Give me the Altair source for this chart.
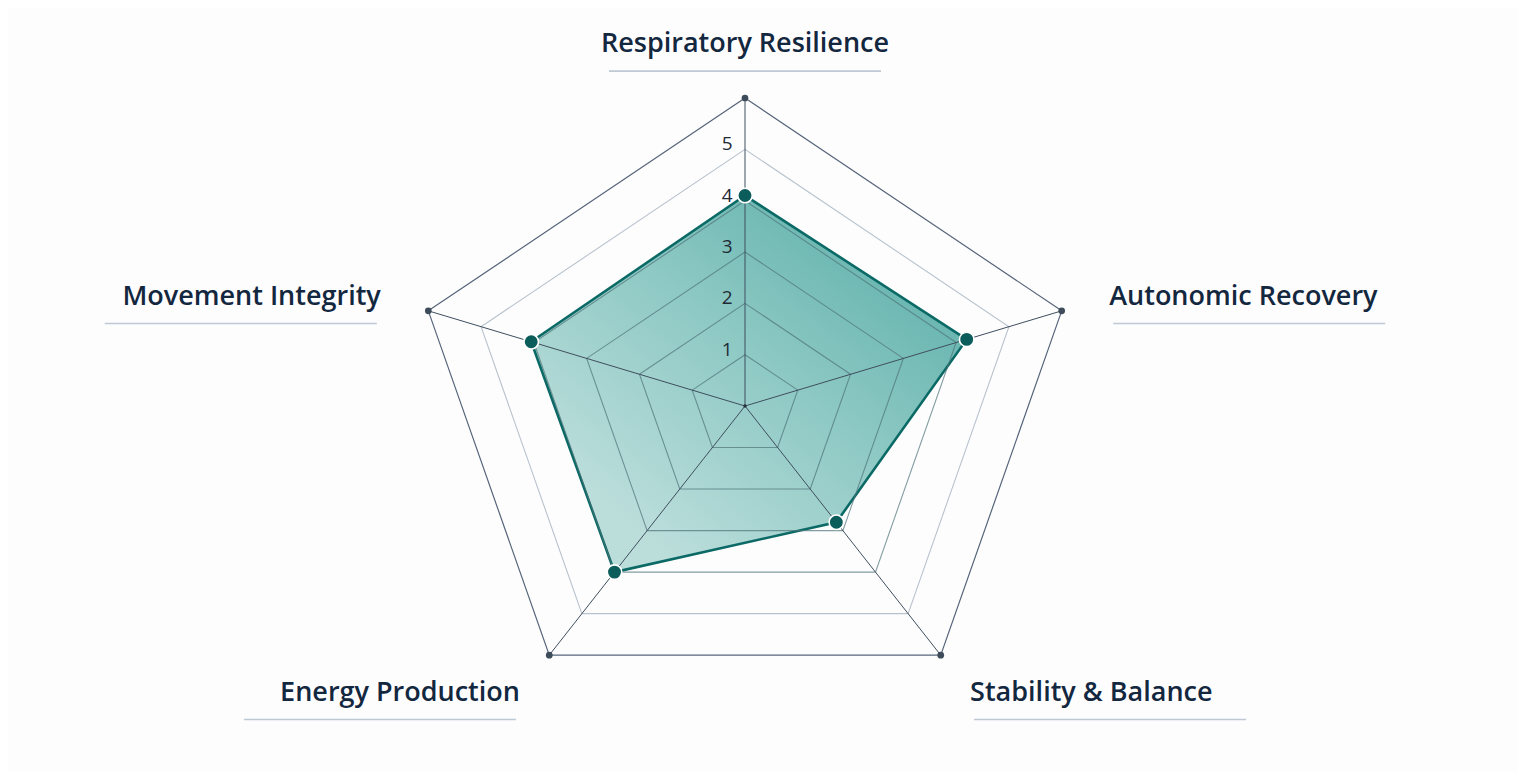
import math
import altair as alt
import pandas as pd

# ---- data ----
categories = ["Respiratory Resilience", "Autonomic Recovery", "Stability & Balance",
              "Energy Production", "Movement Integrity"]
scores = [4.1, 4.2, 2.8, 4.0, 4.05]
ring_levels = [1, 2, 3, 4, 5, 6]
tick_values = [1, 2, 3, 4, 5]
tick_labels = ["1", "2", "3", "4", "5"]
scale_max = 6

# ---- geometry of the view ----
W, H = 1510, 764
CX, CY = 737, 398          # centre of the radar inside the plot area (px)
PX_X, PX_Y = 55.5, 51.33   # pixels per score unit, horizontally / vertically
xdom = [-CX / PX_X, (W - CX) / PX_X]
ydom = [-(H - CY) / PX_Y, CY / PX_Y]

n = len(categories)
angles = [math.radians(90 - 360 / n * i) for i in range(n)]


def pos(r, a):
    return r * math.cos(a), r * math.sin(a)


poly = pd.DataFrame([
    {"category": c, "score": s, "idx": i,
     "x": pos(s, angles[i])[0], "y": pos(s, angles[i])[1]}
    for i, (c, s) in enumerate(zip(categories, scores))
])

rings = pd.DataFrame([
    {"level": lv, "idx": i, "x": pos(lv, angles[i])[0], "y": pos(lv, angles[i])[1]}
    for lv in ring_levels for i in range(n)
])

spokes = pd.DataFrame([
    {"idx": i, "x": 0.0, "y": 0.0,
     "x2": pos(scale_max, angles[i])[0], "y2": pos(scale_max, angles[i])[1]}
    for i in range(n)
])

outer = rings[rings["level"] == scale_max]

ticks = pd.DataFrame({"v": tick_values, "label": tick_labels})
ticks["x"] = -0.32
ticks["y"] = ticks["v"]

lab_rows = []
for i, c in enumerate(categories):
    a = angles[i]
    r = 7.05 if i == 0 else 6.9
    lx, ly = pos(r, a)
    ca = math.cos(a)
    anchor = "left" if ca > 0.1 else ("right" if ca < -0.1 else "center")
    lab_rows.append({"label": c, "x": lx, "y": ly, "anchor": anchor})
labels = pd.DataFrame(lab_rows)

UL = 272 / PX_X
ul_rows = []
for row in lab_rows:
    if row["anchor"] == "center":
        x1 = row["x"] - UL / 2
    elif row["anchor"] == "left":
        x1 = row["x"] + 4 / PX_X
    else:
        x1 = row["x"] - UL - 4 / PX_X
    ul_rows.append({"ux1": x1, "ux2": x1 + UL, "uy": row["y"] - 27 / PX_Y})
ul = pd.DataFrame(ul_rows)

xs = alt.Scale(domain=xdom, nice=False, zero=False)
ys = alt.Scale(domain=ydom, nice=False, zero=False)


def X(f="x"):
    return alt.X(f"{f}:Q", scale=xs, axis=None)


def Y(f="y"):
    return alt.Y(f"{f}:Q", scale=ys, axis=None)


outer_ring = alt.Chart(rings[rings["level"] == scale_max]).mark_line(
    interpolate="linear-closed", stroke="#56657a", strokeWidth=1.2
).encode(x=X(), y=Y(), order="idx:Q")

light_ring = alt.Chart(rings[rings["level"] == 5]).mark_line(
    interpolate="linear-closed", stroke="#b9c3cd", strokeWidth=1.1
).encode(x=X(), y=Y(), order="idx:Q")

grad = alt.Gradient(
    gradient="linear",
    stops=[alt.GradientStop(color="#4fa8a2", offset=0),
           alt.GradientStop(color="#86c5c0", offset=0.5),
           alt.GradientStop(color="#b8dcd9", offset=1)],
    x1=1, y1=0.1, x2=0.25, y2=0.9,
)

area = alt.Chart(poly).mark_line(
    interpolate="linear-closed", fill=grad, fillOpacity=0.95,
    stroke="#0c6a66", strokeWidth=2.6
).encode(x=X(), y=Y(), order="idx:Q")

inner_rings = alt.Chart(rings[rings["level"] <= 4]).mark_line(
    interpolate="linear-closed", stroke="#4f7379", strokeWidth=1.1, opacity=0.7
).encode(x=X(), y=Y(), detail="level:N", order="idx:Q")

spoke = alt.Chart(spokes).mark_rule(stroke="#3f4e5e", strokeWidth=1).encode(
    x=X(), y=Y(), x2="x2:Q", y2="y2:Q")

vert = alt.Chart(outer).mark_point(filled=True, size=45, color="#3e4b5b", opacity=1).encode(
    x=X(), y=Y())

centre = alt.Chart(pd.DataFrame({"x": [0.0], "y": [0.0]})).mark_point(
    filled=True, size=12, color="#25313d", opacity=1).encode(x=X(), y=Y())

pts = alt.Chart(poly).mark_point(
    filled=True, size=210, color="#0b5d5b", stroke="white", strokeWidth=1.6, opacity=1
).encode(x=X(), y=Y(), tooltip=["category:N", "score:Q"])

tick_text = alt.Chart(ticks).mark_text(
    font="Open Sans", fontSize=19, color="#1e2a36", align="center", baseline="middle", dy=-5
).encode(x=X(), y=Y(), text="label:N")

underline = alt.Chart(ul).mark_rule(stroke="#a3b2c2", strokeWidth=1.6, opacity=0.7).encode(
    x=alt.X("ux1:Q", scale=xs, axis=None), x2="ux2:Q", y=alt.Y("uy:Q", scale=ys, axis=None))

text_layers = []
for al in ["left", "right", "center"]:
    text_layers.append(
        alt.Chart(labels[labels["anchor"] == al]).mark_text(
            font="Open Sans", fontSize=27, fontWeight=600, color="#13273f",
            align=al, baseline="middle"
        ).encode(x=X(), y=Y(), text="label:N")
    )

chart = alt.layer(
    outer_ring, light_ring, area, inner_rings, spoke, vert, centre, pts, tick_text,
    underline, *text_layers
).properties(
    width=W, height=H, autosize=alt.AutoSizeParams(type="none"), padding=0,
    background="#fdfdfe"
).configure_view(stroke=None)

chart.save("out.html", embed_options={"renderer": "svg", "actions": False})
